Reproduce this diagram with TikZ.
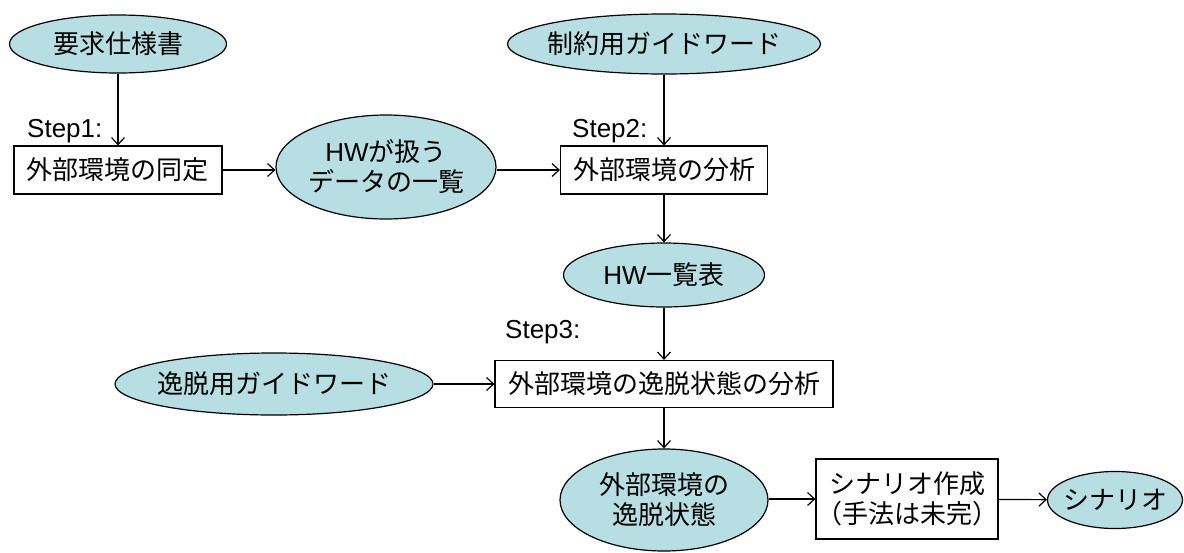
\documentclass[tikz,border=0pt]{standalone}
\usepackage{fontspec}
\setmainfont{Noto Sans CJK JP}
\newfontfamily\latf{Liberation Sans}
\usetikzlibrary{shapes.geometric,arrows.meta}
\definecolor{ovfill}{RGB}{183,222,226}
\tikzset{
  ov/.style={ellipse,draw=black,line width=1.2pt,fill=ovfill,inner sep=-40pt,align=center,font=\fontsize{26}{30}\selectfont},
  stepbox/.style={rectangle,draw=black,line width=1.2pt,fill=white,inner sep=0pt,align=center,font=\fontsize{26}{30}\selectfont},
  arr/.style={line width=1.2pt,-{Straight Barb[length=7pt,width=13pt,line width=1.2pt]}},
  steplbl/.style={anchor=base west,inner sep=0pt,font=\latf\fontsize{26}{30}\selectfont}
}
\begin{document}
\begin{tikzpicture}[x=1pt,y=-1pt]
\useasboundingbox (0,0) rectangle (1184,552);
\node[ov,minimum width=217,minimum height=58] (req) at (118,44) {要求仕様書};
\node[stepbox,minimum width=208,minimum height=48] (s1) at (118,170) {外部環境の同定};
\node[ov,minimum width=220,minimum height=104] (hw) at (386,167) {{\latf HW}が扱う\\データの一覧};
\node[ov,minimum width=313,minimum height=60] (cons) at (664,44) {制約用ガイドワード};
\node[stepbox,minimum width=207,minimum height=48] (s2) at (664,170) {外部環境の分析};
\node[ov,minimum width=201,minimum height=64] (hwl) at (664,275) {{\latf HW}一覧表};
\node[stepbox,minimum width=338,minimum height=47] (s3) at (664,384) {外部環境の逸脱状態の分析};
\node[ov,minimum width=318,minimum height=62] (dev) at (274,384) {逸脱用ガイドワード};
\node[ov,minimum width=208,minimum height=102] (st) at (664,500) {外部環境の\\逸脱状態};
\node[stepbox,minimum width=181,minimum height=80] (sc) at (907,499) {シナリオ作成\\（手法は未完）};
\node[ov,minimum width=135,minimum height=57] (scn) at (1115,500) {シナリオ};
\node[steplbl] (l1) at (27,137) {Step1:};
\node[steplbl] (l2) at (572,137) {Step2:};
\node[steplbl] (l3) at (505,338) {Step3:};
\draw[arr] (req) -- (s1);
\draw[arr] (s1.east) -- (s1.east -| hw.west);
\draw[arr] (hw.east |- s2.west) -- (s2.west);
\draw[arr] (cons) -- (s2);
\draw[arr] (s2) -- (hwl);
\draw[arr] (hwl) -- (s3);
\draw[arr] (dev) -- (s3);
\draw[arr] (s3) -- (st);
\draw[arr] (st.east |- sc.west) -- (sc.west);
\draw[arr] (sc) -- (scn);
\end{tikzpicture}
\end{document}
